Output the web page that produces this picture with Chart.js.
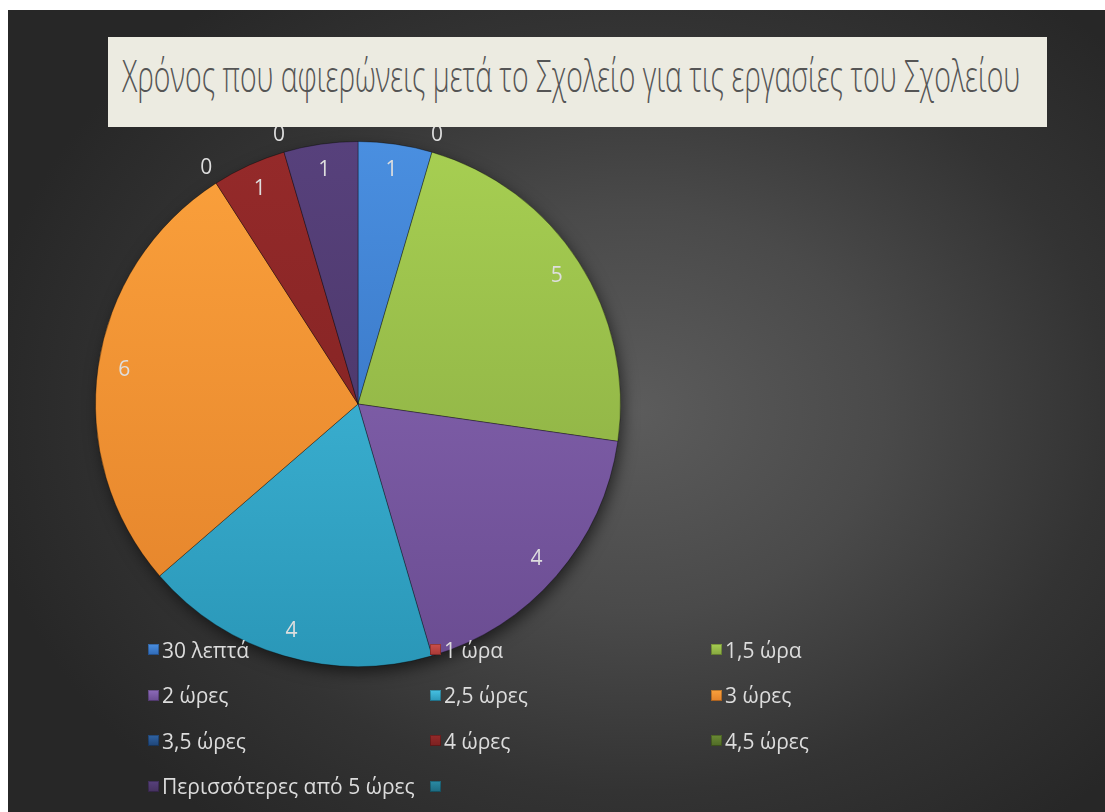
<!DOCTYPE html>
<html lang="el">
<head>
<meta charset="utf-8">
<title>Χρόνος που αφιερώνεις μετά το Σχολείο</title>
<script src="https://cdn.jsdelivr.net/npm/chart.js@4.4.1/dist/chart.umd.min.js"></script>
<style>
  html, body { margin: 0; padding: 0; background: #fff; }
  body { width: 1105px; height: 812px; position: relative; overflow: hidden; font-family: 'Open Sans', 'Noto Sans', sans-serif; }
  #frame {
    position: absolute; left: 8px; top: 10px; width: 1097px; height: 802px; overflow: hidden;
    background: radial-gradient(ellipse 60% 66% at 57% 50%, #5c5c5c 0%, #4a4a4a 38%, #333 72%, #272727 100%);
  }
  #chart { position: absolute; left: 0; top: 0; }
  #titleBox { position: absolute; left: 100px; top: 27px; width: 939px; height: 90px; background: #ecebe1; overflow: hidden; }
  #titleText {
    position: absolute; left: 14px; top: 16px; line-height: 44px; font-size: 45px; font-weight: 300;
    white-space: nowrap; color: #555; transform-origin: left top;
  }
  #legend {
    position: absolute; left: 140px; top: 617px;
    display: grid; grid-template-columns: 282px 281px 281px; grid-auto-rows: 45.5px;
  }
  .item { display: flex; align-items: center; color: #dcdcdc; font-size: 21px; white-space: nowrap; }
  .mark { width: 11px; height: 11px; margin-right: 3px; box-shadow: inset 0 0 0 1px rgba(0,0,0,0.25); }
</style>
</head>
<body>
<div id="frame">
  <canvas id="chart" width="1097" height="802"></canvas>
  <div id="titleBox"><span id="titleText">Χρόνος που αφιερώνεις μετά το Σχολείο για τις εργασίες του Σχολείου</span></div>
  <div id="legend"></div>
</div>
<script>
const categories = ['30 λεπτά', '1 ώρα', '1,5 ώρα', '2 ώρες', '2,5 ώρες', '3 ώρες', '3,5 ώρες', '4 ώρες', '4,5 ώρες', 'Περισσότερες από 5 ώρες', ''];
const responses = [1, 0, 5, 4, 4, 6, 0, 1, 0, 1, null];

const topColors = ['#4a8fe0', '#cc4f4b', '#a7cf52', '#8d6bb9', '#47c2e3', '#fba13c', '#2f63a4', '#952a2a', '#6b8b35', '#57417c', '#2a8ba5'];
const bottomColors = ['#2f69b6', '#a83936', '#85a640', '#6a4c91', '#2a97b8', '#e3822a', '#1f4577', '#7a2020', '#4f6a26', '#46325f', '#1d6a80'];

// fit the title to the box width, like the condensed font of the original
const titleText = document.getElementById('titleText');
titleText.style.transform = 'scaleX(' + (898 / titleText.offsetWidth) + ')';

// legend, 3 columns
const legendEl = document.getElementById('legend');
categories.forEach((name, i) => {
  const div = document.createElement('div');
  div.className = 'item';
  div.innerHTML = `<span class="mark" style="background:linear-gradient(${topColors[i]}, ${bottomColors[i]})"></span><span>${name}</span>`;
  legendEl.appendChild(div);
});

const pieShadow = {
  id: 'pieShadow',
  beforeDatasetsDraw(chart) {
    const arc = chart.getDatasetMeta(0).data[0];
    if (!arc) return;
    const { x, y, outerRadius } = arc.getProps(['x', 'y', 'outerRadius'], true);
    const ctx = chart.ctx;
    ctx.save();
    ctx.shadowColor = 'rgba(0,0,0,0.6)';
    ctx.shadowBlur = 16;
    ctx.shadowOffsetX = 3;
    ctx.shadowOffsetY = 6;
    ctx.beginPath();
    ctx.arc(x, y, outerRadius - 1, 0, Math.PI * 2);
    ctx.fillStyle = '#2a2a2a';
    ctx.fill();
    ctx.restore();
  }
};

const sliceLabels = {
  id: 'sliceLabels',
  afterDatasetsDraw(chart) {
    const ctx = chart.ctx;
    const meta = chart.getDatasetMeta(0);
    ctx.save();
    ctx.font = '21px "Open Sans", sans-serif';
    ctx.fillStyle = '#dedede';
    ctx.textAlign = 'center';
    ctx.textBaseline = 'middle';
    meta.data.forEach((arc, i) => {
      const v = responses[i];
      if (v === null || v === undefined) return;
      const p = arc.getProps(['x', 'y', 'startAngle', 'endAngle', 'outerRadius'], true);
      const mid = (p.startAngle + p.endAngle) / 2;
      const r = v === 0 ? p.outerRadius + 18 : p.outerRadius * 0.9;
      ctx.fillText(String(v), p.x + Math.cos(mid) * r, p.y + Math.sin(mid) * r);
    });
    ctx.restore();
  }
};

function sliceFill(c) {
  const area = c.chart.chartArea;
  const i = c.dataIndex;
  if (!area) return topColors[i];
  const g = c.chart.ctx.createLinearGradient(0, area.top, 0, area.bottom);
  g.addColorStop(0, topColors[i]);
  g.addColorStop(1, bottomColors[i]);
  return g;
}

const chart = new Chart(document.getElementById('chart'), {
  type: 'pie',
  data: {
    labels: categories,
    datasets: [{
      data: responses,
      backgroundColor: sliceFill,
      borderColor: 'rgba(0,0,0,0.35)',
      borderWidth: 1
    }]
  },
  options: {
    responsive: false,
    animation: false,
    layout: { padding: { left: 87, right: 484, top: 131, bottom: 145 } },
    plugins: {
      legend: { display: false },
      title: { display: false },
      tooltip: { enabled: false }
    }
  },
  plugins: [pieShadow, sliceLabels]
});
</script>
</body>
</html>
